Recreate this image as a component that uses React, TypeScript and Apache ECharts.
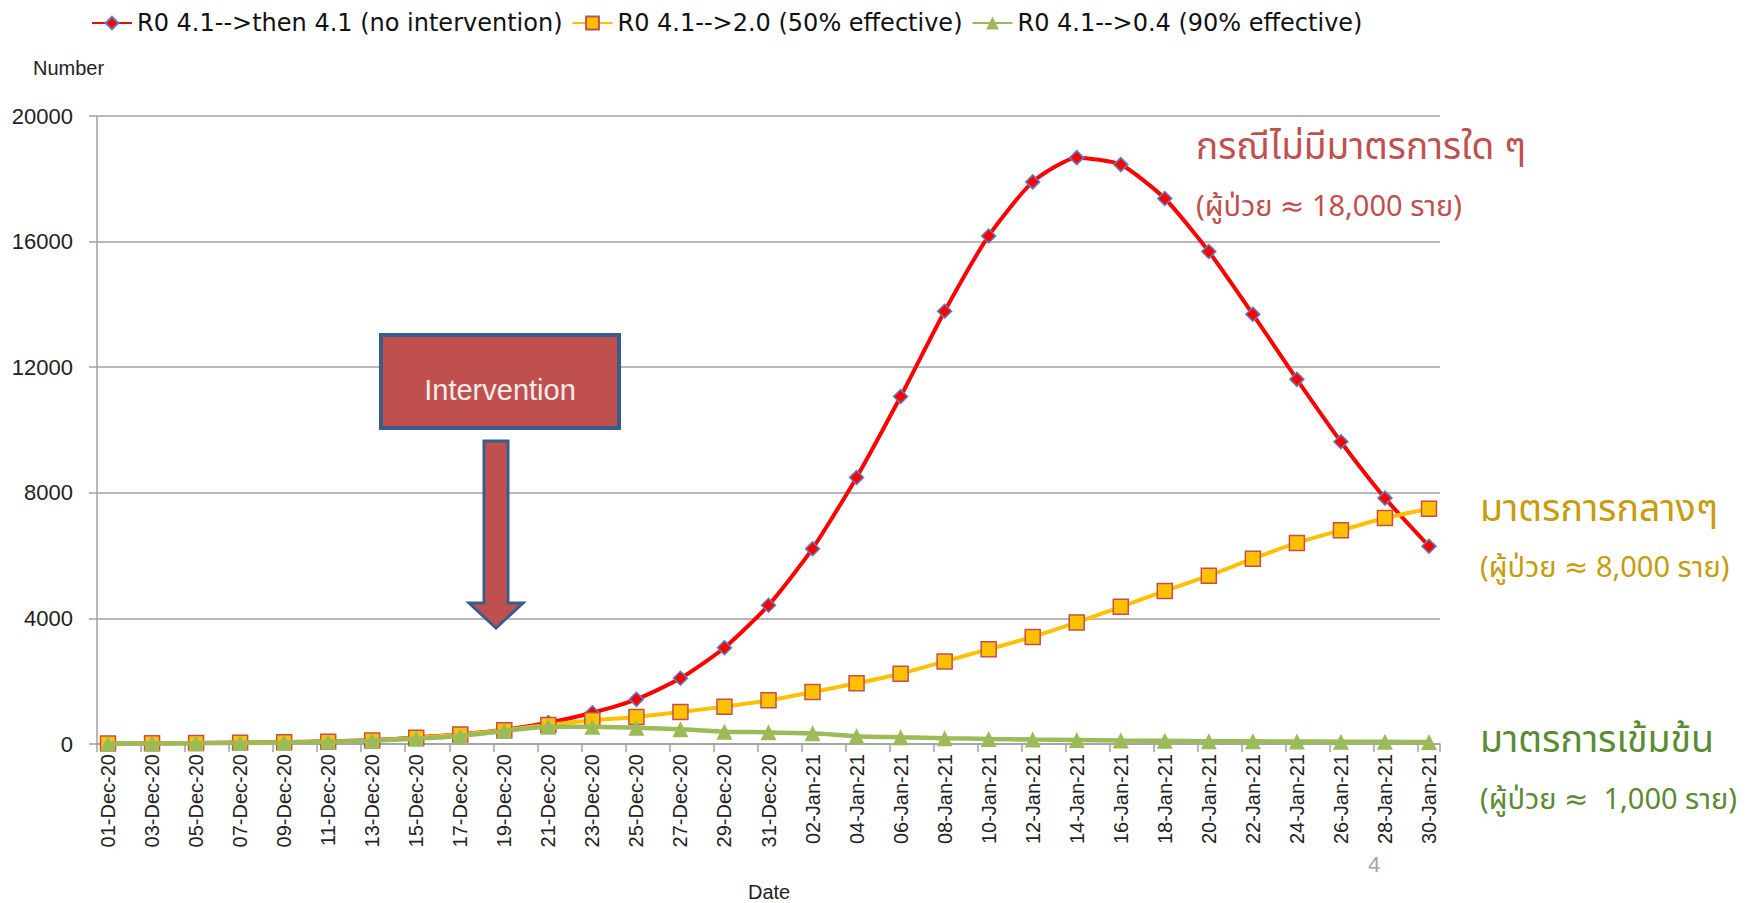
import React, { useEffect, useRef } from "react";
import * as echarts from "echarts";

const dateLabels = [
  "01-Dec-20", "03-Dec-20", "05-Dec-20", "07-Dec-20", "09-Dec-20", "11-Dec-20",
  "13-Dec-20", "15-Dec-20", "17-Dec-20", "19-Dec-20", "21-Dec-20", "23-Dec-20",
  "25-Dec-20", "27-Dec-20", "29-Dec-20", "31-Dec-20", "02-Jan-21", "04-Jan-21",
  "06-Jan-21", "08-Jan-21", "10-Jan-21", "12-Jan-21", "14-Jan-21", "16-Jan-21",
  "18-Jan-21", "20-Jan-21", "22-Jan-21", "24-Jan-21", "26-Jan-21", "28-Jan-21",
  "30-Jan-21",
];

const noIntervention = [
  15, 20, 30, 45, 60, 85, 125, 210, 310, 455, 680, 997, 1423, 2092, 3068, 4418,
  6220, 8490, 11065, 13781, 16180, 17902, 18674, 18452, 17374, 15683, 13686,
  11614, 9627, 7831, 6299,
];

const halfEffective = [
  15, 20, 30, 40, 55, 75, 115, 200, 305, 440, 605, 754, 860, 1019, 1189, 1390,
  1656, 1933, 2238, 2630, 3020, 3410, 3870, 4370, 4870, 5360, 5900, 6404, 6806,
  7197, 7493,
];

const ninetyEffective = [
  10, 15, 25, 35, 50, 70, 105, 170, 258, 414, 552, 552, 520, 467, 393, 372, 340,
  250, 215, 185, 160, 140, 125, 110, 100, 90, 85, 80, 75, 70, 65,
];

const seriesNames = [
  "R0 4.1-->then 4.1 (no intervention)",
  "R0 4.1-->2.0 (50% effective)",
  "R0 4.1-->0.4 (90% effective)",
];

const yMin = 0;
const yMax = 20000;
const yInterval = 4000;

const THAI = "'Noto Sans Thai', 'Noto Sans Thai UI', 'Noto Sans', 'DejaVu Sans', sans-serif";

export default function App() {
  const ref = useRef<HTMLDivElement>(null);

  useEffect(() => {
    if (!ref.current) return;
    const chart = echarts.init(ref.current, undefined, { renderer: "svg" });

    // daily category axis: every plotted date followed by an unlabeled in-between day
    const categories: string[] = [];
    dateLabels.forEach((d, i) => {
      categories.push(d);
      if (i < dateLabels.length - 1) categories.push("");
    });
    const toPairs = (arr: number[]) => arr.map((v, i) => [i * 2, v]);

    const option: any = {
      animation: false,
      backgroundColor: "#ffffff",
      legend: {
        left: 86,
        top: 6,
        itemWidth: 40,
        itemHeight: 16,
        itemGap: 9,
        textStyle: { fontFamily: "DejaVu Sans", fontSize: 24, color: "#111" },
        data: seriesNames,
      },
      grid: { left: 97, right: 309, top: 116, bottom: 159, containLabel: false },
      xAxis: {
        type: "category",
        data: categories,
        boundaryGap: true,
        axisLine: { show: true, lineStyle: { color: "#a0a0a0", width: 1.5 } },
        axisTick: { show: true, interval: 1, length: 8, lineStyle: { color: "#a0a0a0", width: 1.5 } },
        axisLabel: {
          interval: 1,
          rotate: 90,
          margin: 10,
          fontFamily: "Liberation Sans",
          fontSize: 20,
          color: "#222",
        },
        splitLine: { show: false },
      },
      yAxis: {
        type: "value",
        min: yMin,
        max: yMax,
        interval: yInterval,
        axisLine: { show: true, lineStyle: { color: "#a0a0a0", width: 1.5 } },
        axisTick: { show: true, length: 8, lineStyle: { color: "#a0a0a0", width: 1.5 } },
        axisLabel: {
          margin: 24,
          fontFamily: "Liberation Sans",
          fontSize: 22,
          color: "#222",
          formatter: (v: number) => String(v),
        },
        splitLine: { show: true, lineStyle: { color: "#a0a0a0", width: 1.5 } },
      },
      series: [
        {
          name: seriesNames[0],
          type: "line",
          data: toPairs(noIntervention),
          smooth: 0.2,
          symbol: "diamond",
          symbolSize: 14,
          lineStyle: { color: "#ff0000", width: 4 },
          itemStyle: { color: "#ff0000", borderColor: "#5b82c0", borderWidth: 1.5 },
          z: 2,
        },
        {
          name: seriesNames[1],
          type: "line",
          data: toPairs(halfEffective),
          smooth: 0.2,
          symbol: "rect",
          symbolSize: 15,
          lineStyle: { color: "#ffc000", width: 4 },
          itemStyle: { color: "#ffc000", borderColor: "#c0504d", borderWidth: 1.5 },
          z: 3,
        },
        {
          name: seriesNames[2],
          type: "line",
          data: toPairs(ninetyEffective),
          smooth: 0.2,
          symbol: "triangle",
          symbolSize: 16,
          lineStyle: { color: "#9bbb59", width: 4.5 },
          itemStyle: { color: "#9bbb59" },
          z: 4,
        },
      ],
      graphic: [
        {
          type: "text",
          left: 33,
          top: 58,
          style: { text: "Number", fontFamily: "Liberation Sans", fontSize: 20, fill: "#222" },
        },
        {
          type: "text",
          left: 748,
          top: 882,
          style: { text: "Date", fontFamily: "Liberation Sans", fontSize: 20, fill: "#222" },
        },
        {
          type: "text",
          left: 1368,
          top: 853,
          style: { text: "4", fontFamily: "Liberation Sans", fontSize: 22, fill: "#a6a6a6" },
        },
        {
          type: "rect",
          shape: { x: 381, y: 335, width: 238, height: 93 },
          style: { fill: "#c0504d", stroke: "#385d8a", lineWidth: 4 },
          z: 10,
        },
        {
          type: "text",
          x: 500,
          y: 390,
          style: {
            text: "Intervention",
            fontFamily: "Liberation Sans",
            fontSize: 29,
            fill: "#f7ecec",
            align: "center",
            verticalAlign: "middle",
          },
          z: 11,
        },
        {
          type: "polygon",
          shape: {
            points: [
              [484, 441], [508, 441], [508, 603], [523, 603], [496, 628], [469, 603], [484, 603],
            ],
          },
          style: { fill: "#c0504d", stroke: "#385d8a", lineWidth: 3 },
          z: 10,
        },
        {
          type: "text",
          left: 1196,
          top: 129,
          style: { text: "กรณีไม่มีมาตรการใด ๆ", fontFamily: THAI, fontSize: 37, fill: "#c0504d" },
        },
        {
          type: "text",
          left: 1196,
          top: 192,
          style: { text: "(ผู้ป่วย ≈ 18,000 ราย)", fontFamily: THAI, fontSize: 29, fill: "#c0504d" },
        },
        {
          type: "text",
          left: 1480,
          top: 490,
          style: { text: "มาตรการกลางๆ", fontFamily: THAI, fontSize: 37.5, fill: "#c89b0c" },
        },
        {
          type: "text",
          left: 1480,
          top: 553,
          style: { text: "(ผู้ป่วย ≈ 8,000 ราย)", fontFamily: THAI, fontSize: 29, fill: "#c89b0c" },
        },
        {
          type: "text",
          left: 1480,
          top: 721,
          style: { text: "มาตรการเข้มข้น", fontFamily: THAI, fontSize: 37.5, fill: "#5b8a33" },
        },
        {
          type: "text",
          left: 1480,
          top: 785,
          style: { text: "(ผู้ป่วย ≈  1,000 ราย)", fontFamily: THAI, fontSize: 29, fill: "#5b8a33" },
        },
      ],
    };

    chart.setOption(option);
    return () => chart.dispose();
  }, []);

  return (
    <div
      ref={ref}
      style={{ position: "fixed", left: 0, top: 0, width: 1749, height: 903, background: "#fff" }}
    />
  );
}
